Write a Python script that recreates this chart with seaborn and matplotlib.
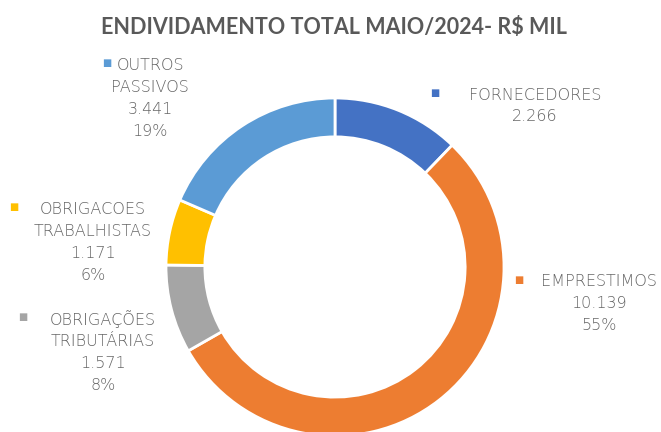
import matplotlib.pyplot as plt
import seaborn as sns

# data (R$ mil, May/2024)
categories = ["FORNECEDORES", "EMPRESTIMOS", "OBRIGAÇÕES\nTRIBUTÁRIAS",
              "OBRIGACOES\nTRABALHISTAS", "OUTROS\nPASSIVOS"]
values = [2266, 10139, 1571, 1171, 3441]
show_pct = [False, True, True, True, True]
colors = ["#4472C4", "#ED7D31", "#A5A5A5", "#FFC000", "#5B9BD5"]

# label anchors in pixels (x of text centre, y of first line, marker x)
label_pos = [(535, 95, 435), (599, 282, 519), (103, 319, 23),
             (93, 209, 14), (150, 65, 107)]

sns.set_theme(style="white")
plt.rcParams["font.family"] = ["DejaVu Sans"]

W, H = 661, 432
fig = plt.figure(figsize=(W / 100, H / 100), dpi=100)

cx, cy, r = 335, 267, 169
ax = fig.add_axes([(cx - r) / W, (H - cy - r) / H, 2 * r / W, 2 * r / H])
ax.pie(values, colors=colors, startangle=90, counterclock=False, radius=1,
       wedgeprops=dict(width=0.23, edgecolor="white", linewidth=2))
ax.set_xlim(-1, 1)
ax.set_ylim(-1, 1)
ax.set_aspect("equal")
ax.axis("off")

fig.text(334 / W, 1 - 28 / H, "ENDIVIDAMENTO TOTAL MAIO/2024- R$ MIL",
         ha="center", va="center", fontsize=15.5, fontweight="bold",
         color="#595959", family=["Lato", "DejaVu Sans"])

total = sum(values)
txt_color = "#666666"
for name, v, pct, c, (tx, ty, mx) in zip(categories, values, show_pct,
                                          colors, label_pos):
    lines = name.split("\n")
    lines.append(f"{v:,}".replace(",", "."))
    if pct:
        lines.append(f"{round(v / total * 100)}%")
    for i, line in enumerate(lines):
        fig.text(tx / W, 1 - (ty + i * 22) / H, line, ha="center",
                 va="center", fontsize=11.5, color=txt_color,
                 fontweight="light")
    fig.text(mx / W, 1 - (ty - 2) / H, "■", ha="center", va="center",
             fontsize=7, color=c)

fig.savefig("out.png", dpi=100)
